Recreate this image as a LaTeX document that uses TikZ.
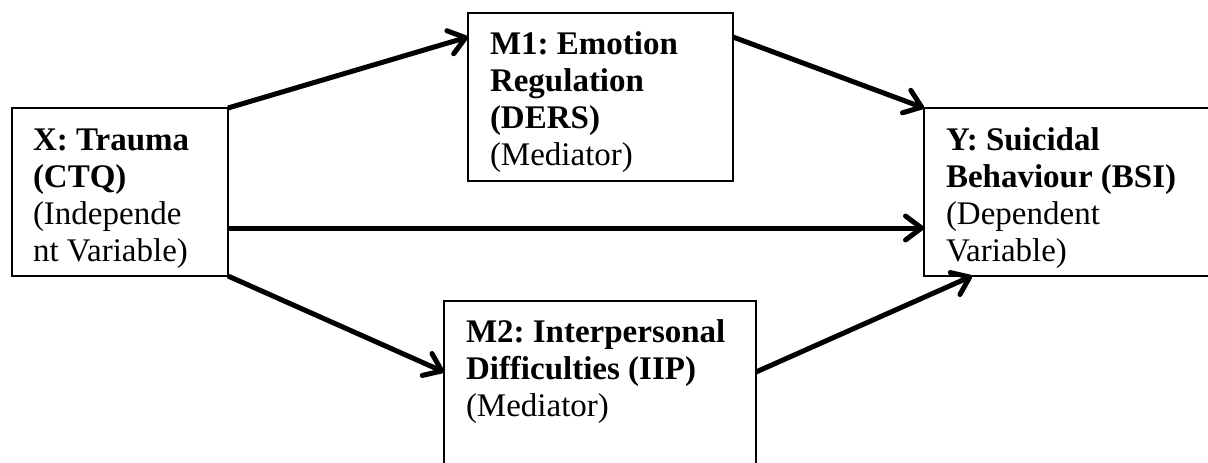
\documentclass[tikz,border=0pt]{standalone}
\usepackage{fontspec}
\setmainfont{Liberation Serif}
\usetikzlibrary{arrows.meta,calc}
\frenchspacing
\tikzset{
  box/.style={draw=black, line width=1.5pt, rectangle, inner sep=0pt, outer sep=0pt, anchor=north west},
  txt/.style={anchor=north west, inner sep=0pt, outer sep=0pt, align=left,
    font={\frenchspacing\fontsize{33pt}{37.3pt}\selectfont}},
  arr/.style={line width=5pt, -{Straight Barb[length=16pt,width=24pt,round]}}
}
\newcommand{\fl}{\rule{0pt}{30pt}}
\begin{document}
\begin{tikzpicture}[x=1pt,y=-1pt]
\useasboundingbox (0,0) rectangle (1208,463);
\fill[white] (0,0) rectangle (1208,463);
\clip (0,0) rectangle (1208,463);
% boxes
\node[box, minimum width=216pt, minimum height=168pt] (X) at (12,108) {};
\node[box, minimum width=265pt, minimum height=168pt] (M1) at (468,13) {};
\node[box, minimum width=300pt, minimum height=168pt] (Y) at (924,108) {};
\node[box, minimum width=312pt, minimum height=185pt] (M2) at (444,301) {};
% texts
\node[txt] (Xt) at (33,120) {\fl\textbf{X: Trauma}\\\textbf{(CTQ)}\\(Independe\\nt Variable)};
\node[txt] (M1t) at (490,24) {\fl\textbf{M1: Emotion}\\\textbf{Regulation}\\\textbf{(DERS)}\\(Mediator)};
\node[txt] (Yt) at (946,120) {\fl\textbf{Y: Suicidal}\\\textbf{Behaviour (BSI)}\\(Dependent\\Variable)};
\node[txt] (M2t) at (466,312) {\fl\textbf{M2: Interpersonal}\\\textbf{Difficulties (IIP)}\\(Mediator)};
% arrows
\draw[arr] (X.north east) -- ($(M1.north west)+(0,24)$);
\draw[arr] ($(M1.north east)+(0,24)$) -- (Y.north west);
\draw[arr] ($(X.north east)+(0,120)$) -- ($(Y.north west)+(0,120)$);
\draw[arr] (X.south east) -- ($(M2.north west)+(0,71)$);
\draw[arr] ($(M2.north east)+(0,71)$) -- ($(Y.south west)+(48,0)$);
\end{tikzpicture}
\end{document}
